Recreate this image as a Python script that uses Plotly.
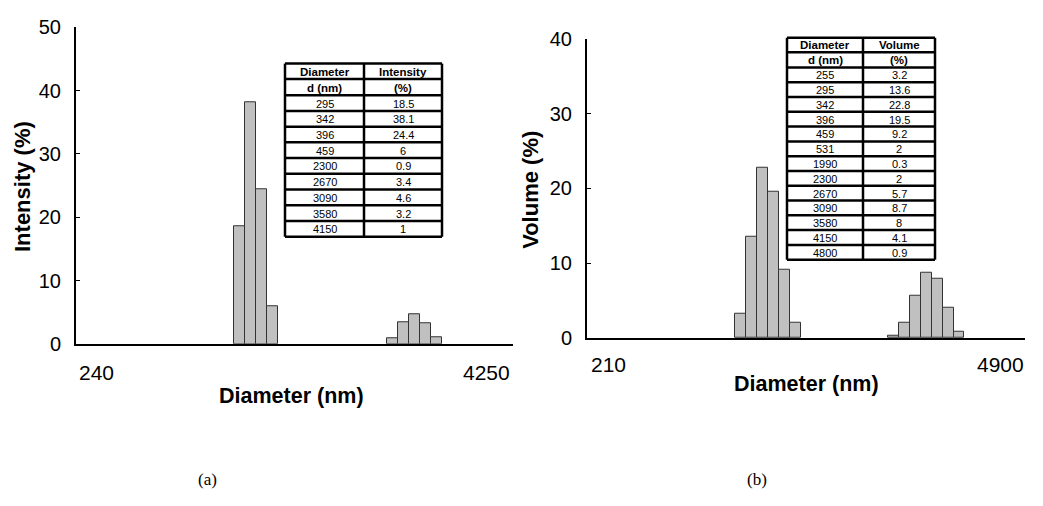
import math
import plotly.graph_objects as go

# ---------------- data ----------------
diam_a = [295, 342, 396, 459, 2300, 2670, 3090, 3580, 4150]
intensity_a = [18.5, 38.1, 24.4, 6, 0.9, 3.4, 4.6, 3.2, 1]

diam_b = [255, 295, 342, 396, 459, 531, 1990, 2300, 2670, 3090, 3580, 4150, 4800]
volume_b = [3.2, 13.6, 22.8, 19.5, 9.2, 2, 0.3, 2, 5.7, 8.7, 8, 4.1, 0.9]

table_a_head = [["Diameter", "Intensity"], ["d (nm)", "(%)"]]
table_b_head = [["Diameter", "Volume"], ["d (nm)", "(%)"]]
table_a_vals = ["18.5", "38.1", "24.4", "6", "0.9", "3.4", "4.6", "3.2", "1"]
table_b_vals = ["3.2", "13.6", "22.8", "19.5", "9.2", "2", "0.3", "2", "5.7", "8.7", "8", "4.1", "0.9"]

end_labels_a = ["240", "4250"]
end_labels_b = ["210", "4900"]
ytitle_a = "Intensity (%)"
ytitle_b = "Volume (%)"
xtitle = "Diameter (nm)"
panel_labels = ["(a)", "(b)"]

# ---------------- layout helpers ----------------
W, H = 1043, 506
def px(x):
    return x / W
def py(y):
    return 1 - y / H

FONT = "Arial, Liberation Sans, sans-serif"
SERIF = "Times New Roman, Liberation Serif, serif"
BIN_W = 0.064  # log10 width of one size bin

fig = go.Figure()

fig.add_trace(go.Bar(
    x=[math.log10(d) for d in diam_a], y=intensity_a, width=BIN_W,
    marker=dict(color="#c0c0c0", line=dict(color="#333333", width=1)),
    xaxis="x", yaxis="y", showlegend=False,
    customdata=diam_a, hovertemplate="d=%{customdata} nm<br>%{y}%<extra></extra>"))
fig.add_trace(go.Bar(
    x=[math.log10(d) for d in diam_b], y=volume_b, width=BIN_W,
    marker=dict(color="#c0c0c0", line=dict(color="#333333", width=1)),
    xaxis="x2", yaxis="y2", showlegend=False,
    customdata=diam_b, hovertemplate="d=%{customdata} nm<br>%{y}%<extra></extra>"))

axis_common_x = dict(showline=True, linecolor="black", linewidth=2, ticks="",
                     showticklabels=False, showgrid=False, zeroline=False)
axis_common_y = dict(showline=True, linecolor="black", linewidth=2, ticks="inside",
                     ticklen=4, tickwidth=1, tickcolor="black", dtick=10,
                     showgrid=False, zeroline=False, ticklabelstandoff=9,
                     tickfont=dict(family=FONT, size=20, color="black"))

fig.update_layout(
    width=W, height=H, margin=dict(l=0, r=0, t=0, b=0),
    paper_bgcolor="white", plot_bgcolor="white", bargap=0,
    xaxis=dict(domain=[px(76), px(513)], range=[1.5164, 4.0646], anchor="y", **axis_common_x),
    yaxis=dict(domain=[py(348), py(17)], range=[0, 50], anchor="x", **axis_common_y),
    xaxis2=dict(domain=[px(587), px(1025)], range=[1.5109, 4.0664], anchor="y2", **axis_common_x),
    yaxis2=dict(domain=[py(342), py(29)], range=[0, 40], anchor="x2", **axis_common_y),
)

ann = []
shapes = []

# axis end labels
ann.append(dict(text=end_labels_a[0], x=px(77), y=py(378), xanchor="left", yanchor="middle"))
ann.append(dict(text=end_labels_a[1], x=px(512), y=py(378), xanchor="right", yanchor="middle"))
ann.append(dict(text=end_labels_b[0], x=px(589), y=py(370), xanchor="left", yanchor="middle"))
ann.append(dict(text=end_labels_b[1], x=px(1026), y=py(370), xanchor="right", yanchor="middle"))
for a in ann:
    a.update(xref="paper", yref="paper", showarrow=False,
             font=dict(family=FONT, size=21, color="black"))

# axis titles
def title(text, x, y, angle=0, size=22):
    ann.append(dict(text="<b>" + text + "</b>", x=px(x), y=py(y), xref="paper", yref="paper",
                    showarrow=False, textangle=angle, xanchor="center", yanchor="middle",
                    font=dict(family=FONT, size=size, color="black")))

title(xtitle, 291, 402, size=21.5)
title(xtitle, 806, 390, size=21.5)
title(ytitle_a, 22, 184, angle=-90)
title(ytitle_b, 531, 187, angle=-90)

# panel labels
for lab, x in zip(panel_labels, [207, 757]):
    ann.append(dict(text=lab, x=px(x), y=py(490), xref="paper", yref="paper", showarrow=False,
                    xanchor="center", yanchor="middle",
                    font=dict(family=SERIF, size=17, color="black")))

# tables
def draw_table(x0, xm, x1, y0, y_h1, y_h2, row_h, head, diams, vals):
    n = len(diams)
    ys = [y0, y_h1, y_h2] + [y_h2 + row_h * (i + 1) for i in range(n)]
    yend = ys[-1]
    for y in ys:
        shapes.append(dict(type="line", xref="paper", yref="paper",
                           x0=px(x0), x1=px(x1), y0=py(y), y1=py(y),
                           line=dict(color="black", width=2.5)))
    for x in (x0, xm, x1):
        shapes.append(dict(type="line", xref="paper", yref="paper",
                           x0=px(x), x1=px(x), y0=py(y0), y1=py(yend),
                           line=dict(color="black", width=2.5)))
    cx = [(x0 + xm) / 2, (xm + x1) / 2]
    rows = [head[0], head[1]] + [[str(d), v] for d, v in zip(diams, vals)]
    for i, row in enumerate(rows):
        yc = (ys[i] + ys[i + 1]) / 2
        for j, txt in enumerate(row):
            bold = i < 2
            ann.append(dict(text=("<b>" + txt + "</b>") if bold else txt,
                            x=px(cx[j]), y=py(yc + 0.5), xref="paper", yref="paper",
                            showarrow=False, xanchor="center", yanchor="middle",
                            font=dict(family=FONT, size=11.5 if bold else 11, color="black")))

draw_table(285, 364, 442, 55, 71, 88, (236 - 88) / len(diam_a), table_a_head, diam_a, table_a_vals)
draw_table(787, 863, 935, 28, 43, 59, (260 - 59) / len(diam_b), table_b_head, diam_b, table_b_vals)

fig.update_layout(annotations=ann, shapes=shapes)

fig.write_html("out.html", config={"displayModeBar": False},
               post_script="document.body.style.margin='0';document.body.style.overflow='hidden';")
